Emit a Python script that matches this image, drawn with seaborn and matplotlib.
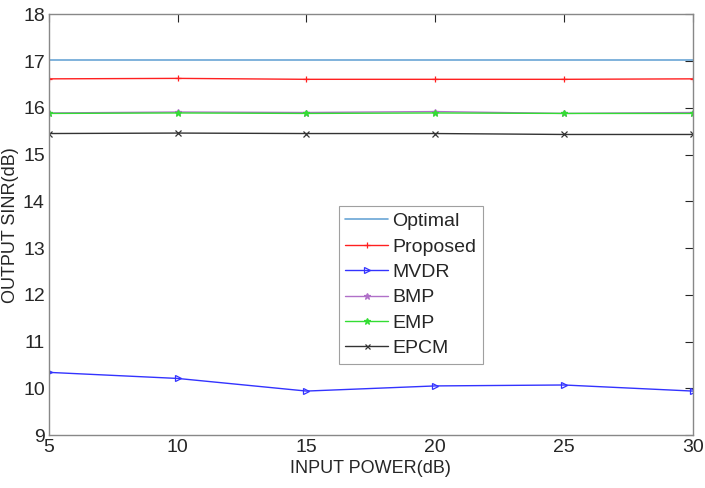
import matplotlib
matplotlib.use("Agg")
import matplotlib.pyplot as plt
import seaborn as sns
import pandas as pd

input_power = [5, 10, 15, 20, 25, 30]
optimal = [17.03, 17.03, 17.03, 17.03, 17.03, 17.03]
proposed = [16.62, 16.63, 16.61, 16.61, 16.61, 16.62]
mvdr = [10.34, 10.21, 9.94, 10.05, 10.07, 9.94]
bmp = [15.89, 15.91, 15.90, 15.92, 15.88, 15.90]
emp = [15.88, 15.89, 15.88, 15.89, 15.88, 15.88]
epcm = [15.45, 15.46, 15.45, 15.45, 15.43, 15.43]

series = [
    ("Optimal", optimal, "#6aa6d6", None, 1.2),
    ("Proposed", proposed, "#ff2020", "+", 1.0),
    ("MVDR", mvdr, "#3333ff", ">", 1.0),
    ("BMP", bmp, "#b070c8", "*", 1.0),
    ("EMP", emp, "#33dd33", "*", 1.0),
    ("EPCM", epcm, "#333333", "x", 1.0),
]

sns.set_style("white")
plt.rcParams['font.family'] = ['Liberation Sans', 'DejaVu Sans']

fig = plt.figure(figsize=(7.05, 4.88), dpi=100)
ax = fig.add_axes([0.0695, 0.1086, 0.913, 0.862])

for name, vals, color, marker, lw in series:
    df = pd.DataFrame({"x": input_power, "y": vals})
    kw = {}
    if marker is not None:
        kw = dict(marker=marker, markersize=5 if marker != "x" else 4,
                  markerfacecolor="none" if marker == ">" else color,
                  markeredgecolor=color, markeredgewidth=0.9)
    sns.lineplot(data=df, x="x", y="y", ax=ax, color=color, linewidth=lw,
                 label=name, **kw)

ax.set_xlim(5, 30)
ax.set_ylim(9, 18)
ax.set_xticks(input_power)
ax.set_yticks(range(9, 19))
ax.set_xlabel("INPUT POWER(dB)", fontsize=13, color="#262626", labelpad=3)
ax.set_ylabel("OUTPUT SINR(dB)", fontsize=13, color="#262626", labelpad=3)
ax.tick_params(direction="in", length=6, width=0.8, colors="#262626",
               labelsize=14, top=True, right=True, labelcolor="#262626", pad=3)
for s in ax.spines.values():
    s.set_color("#888888")
    s.set_linewidth(1.0)

leg = ax.legend(loc="upper left", bbox_to_anchor=(0.45, 0.545), fontsize=14,
                frameon=True, fancybox=False, borderpad=0.35, labelspacing=0.4,
                handlelength=2.2, handletextpad=0.2, borderaxespad=0,
                markerscale=0.9)
leg.get_frame().set_edgecolor("#888888")
leg.get_frame().set_linewidth(0.8)

fig.savefig("out.png", dpi=100)
